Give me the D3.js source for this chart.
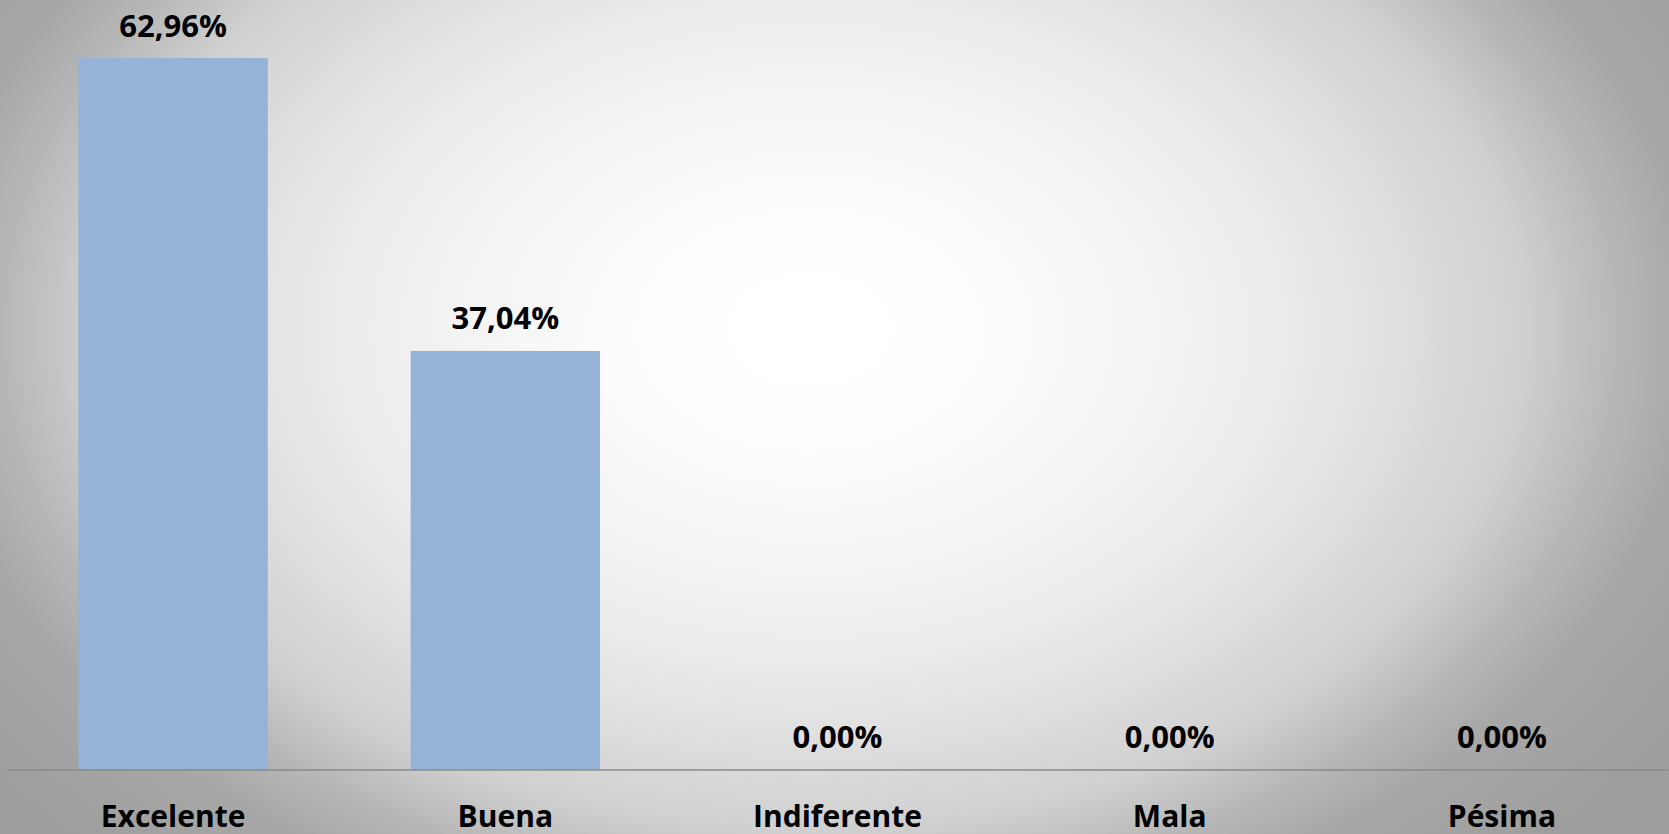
<!DOCTYPE html>
<html>
<head>
<meta charset="utf-8">
<script src="https://cdn.jsdelivr.net/npm/d3@7"></script>
<style>
  html, body { margin: 0; padding: 0; overflow: hidden; background: #fff; }
  svg { display: block; }
  text { font-family: "Open Sans", "Noto Sans", sans-serif; font-weight: 700; fill: #000; }
</style>
</head>
<body>
<svg id="chart" width="1669" height="834"></svg>
<script>
// ---- data ----
const categories = ["Excelente", "Buena", "Indiferente", "Mala", "Pésima"];
const values = [62.96, 37.04, 0.00, 0.00, 0.00];
const valueLabels = ["62,96%", "37,04%", "0,00%", "0,00%", "0,00%"];

// ---- layout ----
const W = 1669, H = 834;
const svg = d3.select("#chart");

// background: elliptical radial gradient (light centre, grey edges)
const defs = svg.append("defs");
const grad = defs.append("radialGradient")
  .attr("id", "bg")
  .attr("gradientUnits", "userSpaceOnUse")
  .attr("cx", 810).attr("cy", 330).attr("r", 1030)
  .attr("gradientTransform", "translate(0,330) scale(1,0.7) translate(0,-330)");
[
  [0, 255], [0.146, 254], [0.29, 246], [0.456, 236], [0.58, 222],
  [0.693, 208], [0.786, 182], [0.854, 168], [1, 158]
].forEach(([o, g]) => grad.append("stop").attr("offset", o).attr("stop-color", d3.rgb(g, g, g)));
svg.append("rect").attr("x", 0).attr("y", 0).attr("width", W).attr("height", H)
  .attr("fill", "url(#bg)");

const baseY = 769.5;
const x = d3.scaleBand()
  .domain(categories)
  .range([7, 1668])
  .paddingInner(0.43)
  .paddingOuter(0.215);
const y = d3.scaleLinear()
  .domain([0, 70])
  .range([baseY, baseY - 70 * 11.3]);

// bars
svg.append("g").selectAll("rect")
  .data(categories)
  .join("rect")
  .attr("x", (d) => x(d))
  .attr("width", x.bandwidth())
  .attr("y", (d, i) => y(values[i]))
  .attr("height", (d, i) => y(0) - y(values[i]))
  .attr("fill", "#95b3d7");

// value labels
svg.append("g").selectAll("text")
  .data(categories)
  .join("text")
  .attr("x", (d) => x(d) + x.bandwidth() / 2)
  .attr("y", (d, i) => y(values[i]) - 21.5)
  .attr("text-anchor", "middle")
  .attr("font-size", 31)
  .text((d, i) => valueLabels[i]);

// category axis
const axis = svg.append("g")
  .attr("transform", `translate(0,${baseY})`)
  .call(d3.axisBottom(x).tickSize(0).tickSizeOuter(0));
axis.select(".domain").attr("stroke", "#8a8a8a").attr("stroke-width", 1.6);
axis.selectAll(".tick text")
  .attr("y", 57.5)
  .attr("dy", 0)
  .attr("font-size", 30)
  .attr("font-family", "\"Open Sans\", \"Noto Sans\", sans-serif")
  .attr("font-weight", 700)
  .attr("fill", "#000");
</script>
</body>
</html>
